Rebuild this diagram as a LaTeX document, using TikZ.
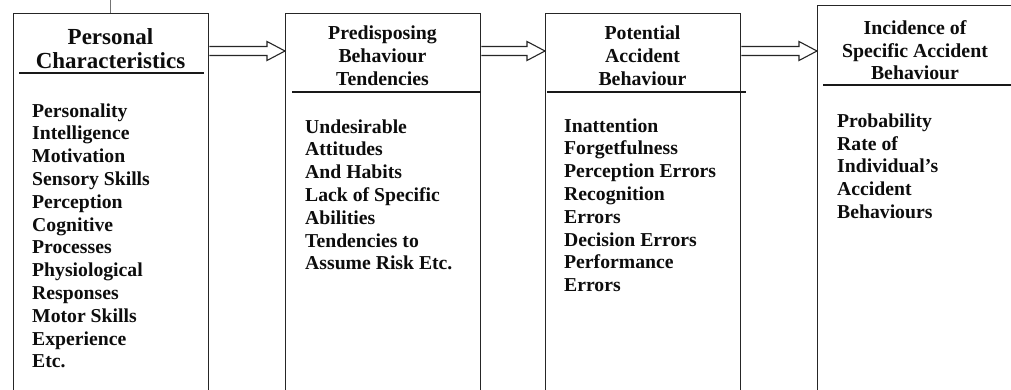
\documentclass[tikz,border=0pt]{standalone}
\usepackage{fontspec}
\setmainfont{Liberation Serif}
\usetikzlibrary{calc}

\tikzset{
  stagebox/.style={draw=black!85, line width=1.3pt, fill=none, inner sep=0pt,
                   minimum width=195pt, minimum height=420pt, anchor=north west},
  divider/.style={draw=black!90, line width=1.6pt},
  % anchored at the baseline of the last line
  heading/.style={inner sep=0pt, align=center, anchor=base, text=black!95,
                  font=\bfseries\fontsize{19.8}{23}\selectfont},
  itemlist/.style={inner sep=0pt, align=left, anchor=base west, text=black!95,
                   font=\bfseries\fontsize{19.7}{22.8}\selectfont},
  arrowline/.style={draw=black!85, line width=1.1pt, fill=white, line join=miter},
}

% open block arrow from a start point on one box to a tip on the next
\newcommand{\hollowarrow}[2]{%
  \draw[arrowline] ($(#1)+(0,4.5)$) -- ($(#2)+(-18,4.5)$) -- ($(#2)+(-18,9.5)$)
    -- (#2) -- ($(#2)+(-18,-9.5)$) -- ($(#2)+(-18,-4.5)$) -- ($(#1)+(0,-4.5)$);}

\begin{document}
\begin{tikzpicture}[x=1pt, y=1pt]
\useasboundingbox (0,0) rectangle (1011,-390);
\clip (0,0) rectangle (1011,-390);

% stage boxes (open past the lower edge)
\node[stagebox] (b1) at (13,-12.7) {};
\node[stagebox] (b2) at (285,-12.7) {};
\node[stagebox] (b3) at (545,-12.7) {};
\node[stagebox, minimum width=196pt] (b4) at (817,-5) {};

% small mark above the first box
\draw[black!55, line width=0.5pt] (110,0) coordinate (tickTop) -- (b1.north -| tickTop);

% headings
\node[heading, font=\bfseries\fontsize{23}{24}\selectfont] (h1) at (110.5,-69)
  {Personal\\Characteristics};
\node[heading] (h2) at (382.5,-86) {Predisposing\\Behaviour\\Tendencies};
\node[heading] (h3) at (642.5,-86) {Potential\\Accident\\Behaviour};
\node[heading, font=\bfseries\fontsize{19.8}{22.5}\selectfont] (h4) at (915,-80)
  {Incidence of\\Specific Accident\\Behaviour};

% rules under the headings
\draw[divider] ($(b1.north west)+(6,-60.5)$) -- ($(b1.north east)+(-5,-60.5)$);
\draw[divider] ($(b2.north west)+(7,-79.3)$) -- ($(b2.north east)+(0,-79.3)$);
\draw[divider] ($(b3.north west)+(2,-79.3)$) -- ($(b3.north east)+(5,-79.3)$);
\draw[divider] ($(b4.north west)+(6,-80)$) -- ($(b4.north east)+(0,-80)$);

% item lists
\node[itemlist] (l1) at (32,-367.8)
  {Personality\\Intelligence\\Motivation\\Sensory Skills\\Perception\\Cognitive\\Processes\\Physiological\\Responses\\Motor Skills\\Experience\\Etc.};
\node[itemlist] (l2) at (305,-269.8)
  {Undesirable\\Attitudes\\And Habits\\Lack of Specific\\Abilities\\Tendencies to\\Assume Risk Etc.};
\node[itemlist] (l3) at (564,-291.6)
  {Inattention\\Forgetfulness\\Perception Errors\\Recognition\\Errors\\Decision Errors\\Performance\\Errors};
\node[itemlist, font=\bfseries\fontsize{19.7}{22.5}\selectfont] (l4) at (837,-218)
  {Probability\\Rate of\\Individual’s\\Accident\\Behaviours};

% connecting arrows
\coordinate (arrowrow) at (0,-51);
\coordinate (a1s) at (b1.east |- arrowrow);
\coordinate (a1e) at (b2.west |- arrowrow);
\coordinate (a2s) at (b2.east |- arrowrow);
\coordinate (a2e) at (b3.west |- arrowrow);
\coordinate (a3s) at (b3.east |- arrowrow);
\coordinate (a3e) at (b4.west |- arrowrow);
\hollowarrow{a1s}{a1e}
\hollowarrow{a2s}{a2e}
\hollowarrow{a3s}{a3e}
\end{tikzpicture}
\end{document}
